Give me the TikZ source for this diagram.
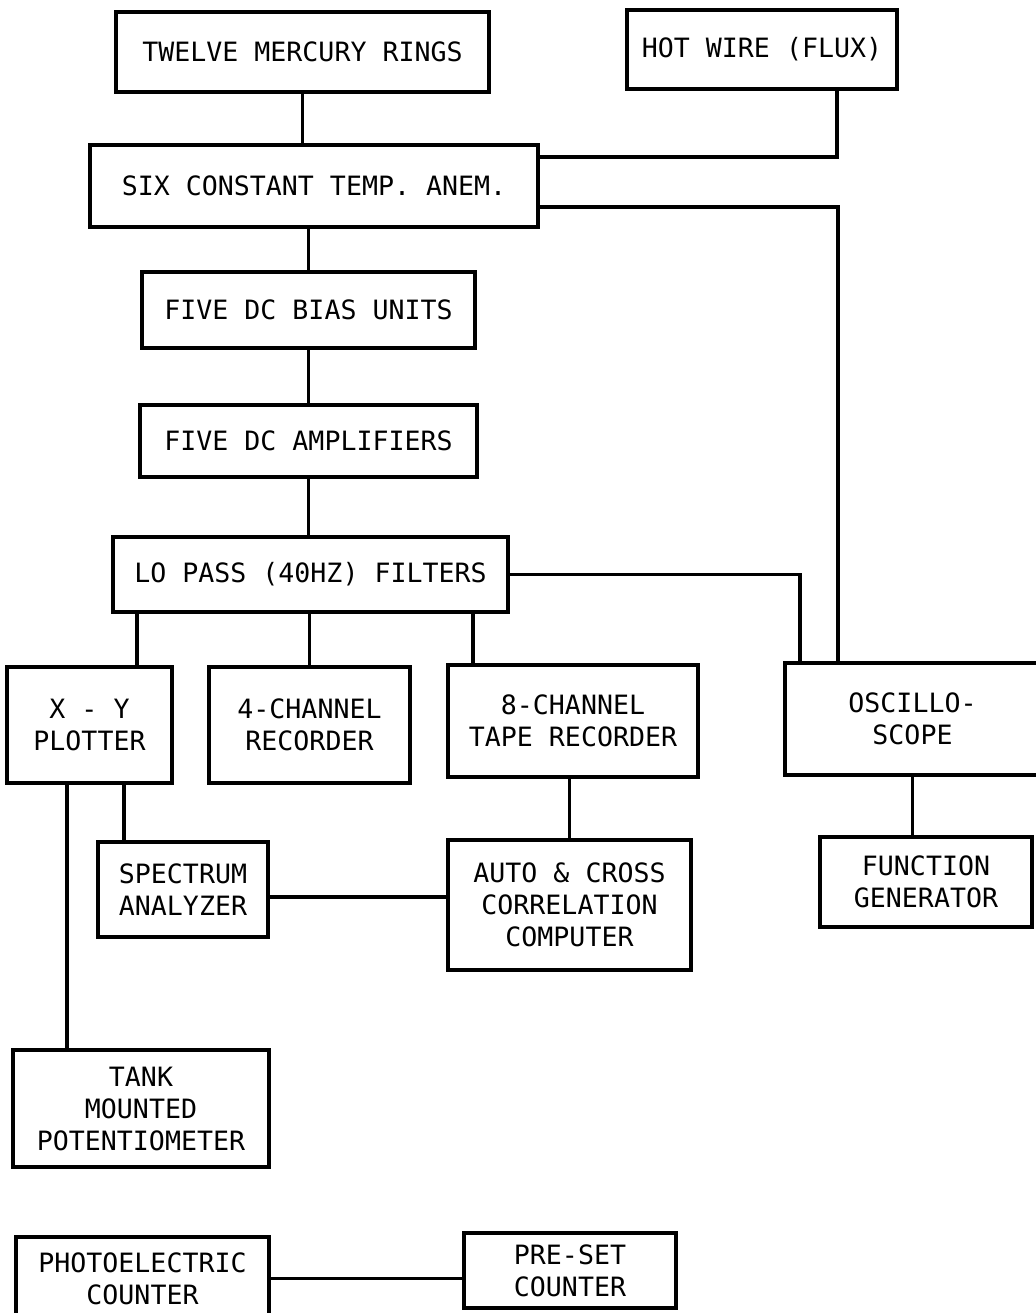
\documentclass[tikz,border=0pt]{standalone}
\usepackage{fontspec}
\usepackage{tikz}
\newfontfamily\monofam{DejaVu Sans Mono}
\newcommand{\boxfont}{\fontsize{13.3}{16}\selectfont}

\begin{document}
\begin{tikzpicture}[x=0.5pt, y=-0.5pt, font=\boxfont\monofam,
    blk/.style={draw, line width=1.9pt, align=center, inner sep=0pt},
    wire/.style={line width=1.9pt}]
  \useasboundingbox (0,0) rectangle (1035,1313);
  % blocks: name / centre x / centre y / width / height / text
  \foreach \nm/\cx/\cy/\bw/\bh/\txt in {
     twelve/302.5/52/373/80/{TWELVE MERCURY RINGS},
     hotwire/762/49.5/270/79/{HOT WIRE (FLUX)},
     anem/314/186/448/82/{SIX CONSTANT TEMP. ANEM.},
     bias/308.5/310/333/76/{FIVE DC BIAS UNITS},
     amp/308.5/441/337/72/{FIVE DC AMPLIFIERS},
     lopass/310.5/574.5/395/75/{LO PASS (40HZ) FILTERS},
     xy/89.5/725/165/116/{X - Y\\PLOTTER},
     fourch/309.5/725/201/116/{4-CHANNEL\\RECORDER},
     eightch/573/721/250/112/{8-CHANNEL\\TAPE RECORDER},
     osc/912.5/719/255/112/{OSCILLO-\\SCOPE},
     spec/183/889.5/170/95/{SPECTRUM\\ANALYZER},
     corr/569.5/905/243/130/{AUTO \& CROSS\\CORRELATION\\COMPUTER},
     fgen/926/882/212/90/{FUNCTION\\GENERATOR},
     tank/141/1108.5/256/117/{TANK\\MOUNTED\\POTENTIOMETER},
     photo/142.5/1278.5/253/83/{PHOTOELECTRIC\\COUNTER},
     preset/570/1270.5/212/75/{PRE-SET\\COUNTER}} {
    \node[blk, minimum width=\bw*0.5pt, minimum height=\bh*0.5pt]
          (\nm) at (\cx,\cy) {\txt};
  }
  % signal chain
  \draw[wire] (twelve.south) -- (twelve.south |- anem.north);
  \draw[wire] ([xshift=37.5pt]hotwire.south) |- ([yshift=14.5pt]anem.east);
  \draw[wire] ([yshift=-10.5pt]anem.east) -| ([xshift=-37.25pt]osc.north);
  \draw[wire] (bias.north |- anem.south) -- (bias.north);
  \draw[wire] (bias.south) -- (amp.north);
  \draw[wire] (amp.south) -- (amp.south |- lopass.north);
  \draw[wire] (lopass.east) -| ([xshift=-56.25pt]osc.north);
  \draw[wire] ([xshift=23.75pt]xy.north) -- ([xshift=23.75pt]xy.north |- lopass.south);
  \draw[wire] (fourch.north) -- (fourch.north |- lopass.south);
  \draw[wire] ([xshift=-50pt]eightch.north) -- ([xshift=-50pt]eightch.north |- lopass.south);
  \draw[wire] ([xshift=-37pt]tank.north) -- ([xshift=-37pt]tank.north |- xy.south);
  \draw[wire] ([xshift=-29.5pt]spec.north) -- ([xshift=-29.5pt]spec.north |- xy.south);
  \draw[wire] ([yshift=-3.75pt]spec.east) -- ([yshift=-3.75pt]spec.east -| corr.west);
  \draw[wire] (corr.north |- eightch.south) -- (corr.north);
  \draw[wire] (osc.south) -- (osc.south |- fgen.north);
  \draw[wire] (photo.east) -- (photo.east -| preset.west);
\end{tikzpicture}
\end{document}
